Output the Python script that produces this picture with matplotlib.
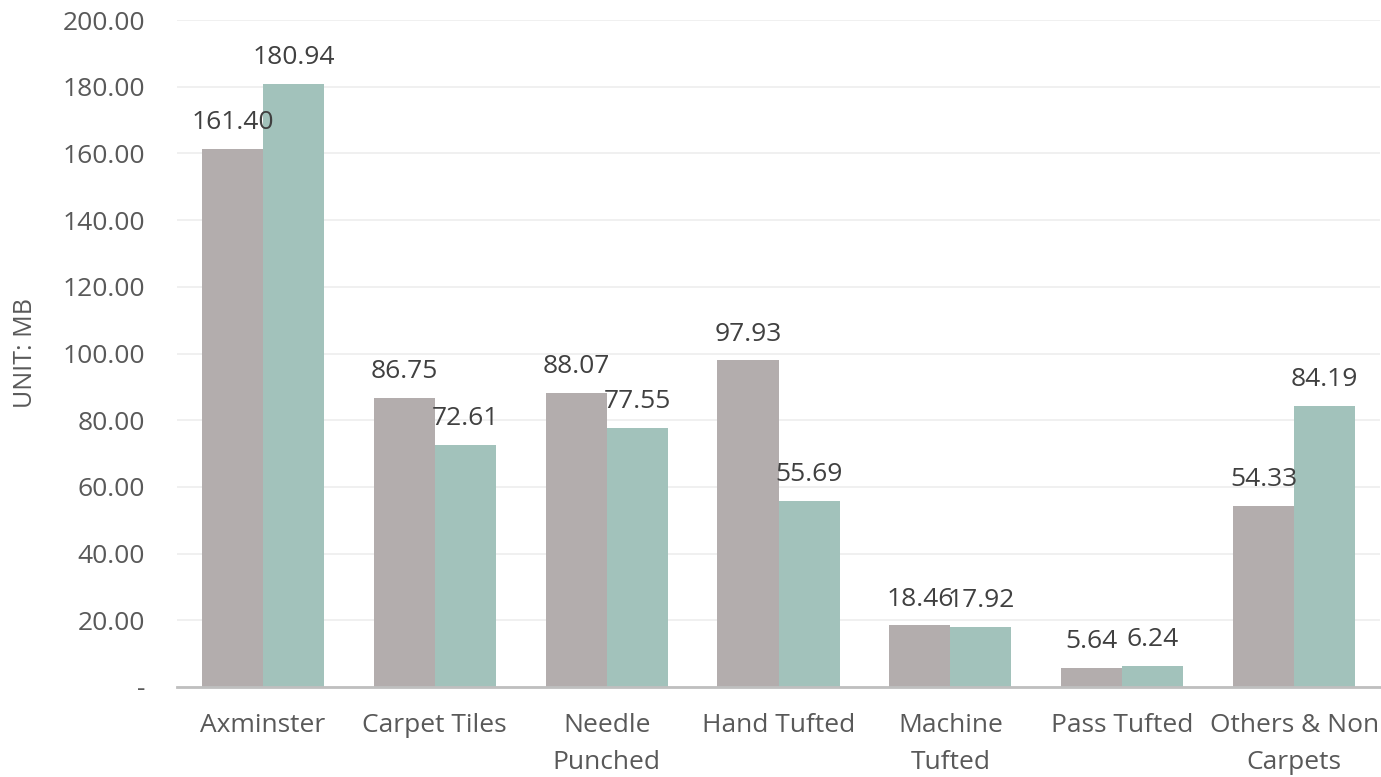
import numpy as np
import matplotlib
matplotlib.use("Agg")
import matplotlib.pyplot as plt

categories = ["Axminster", "Carpet Tiles", "Needle\nPunched", "Hand Tufted",
              "Machine\nTufted", "Pass Tufted", "Others & Non\nCarpets"]
series_a = [161.40, 86.75, 88.07, 97.93, 18.46, 5.64, 54.33]
series_b = [180.94, 72.61, 77.55, 55.69, 17.92, 6.24, 84.19]
yticks = [0, 20, 40, 60, 80, 100, 120, 140, 160, 180, 200]

plt.rcParams['font.family'] = ['Open Sans', 'DejaVu Sans']

fig = plt.figure(figsize=(13.81, 7.77), dpi=100)
ax = fig.add_axes([177 / 1381, 1 - 687 / 777, (1380 - 177) / 1381, (687 - 20) / 777])

x = np.arange(len(categories))
w = 0.355
ax.bar(x - w / 2, series_a, w, color="#B3ADAD", zorder=2)
ax.bar(x + w / 2, series_b, w, color="#A2C2BB", zorder=2)

for xi, a, b in zip(x, series_a, series_b):
    ax.annotate(f"{a:.2f}", (xi - w / 2, a), xytext=(0, 19), textcoords="offset points",
                ha="center", va="center", fontsize=19, color="#404040")
    ax.annotate(f"{b:.2f}", (xi + w / 2, b), xytext=(0, 19), textcoords="offset points",
                ha="center", va="center", fontsize=19, color="#404040")

ax.set_xlim(-0.5, len(categories) - 0.5)
ax.set_ylim(0, 200)
ax.set_yticks(yticks)
ax.set_yticklabels(["-"] + [f"{v:.2f}" for v in yticks[1:]])
ax.set_xticks(x)
ax.set_xticklabels(categories, linespacing=1.6)
ax.tick_params(axis="y", length=0, labelsize=19, labelcolor="#595959", pad=23)
ax.tick_params(axis="x", length=0, labelsize=19, labelcolor="#595959", pad=19)
ax.grid(axis="y", color="#EDEDED", linewidth=1.2, zorder=0)
for s in ["top", "right", "left"]:
    ax.spines[s].set_visible(False)
ax.spines["bottom"].set_color("#BFBFBF")
ax.spines["bottom"].set_linewidth(2)
ax.spines["bottom"].set_zorder(3)
ax.set_ylabel("UNIT: MB", fontsize=18, color="#595959")
ax.yaxis.set_label_coords(-139 / 1203, 0.5)

fig.savefig("out.png", dpi=100)
